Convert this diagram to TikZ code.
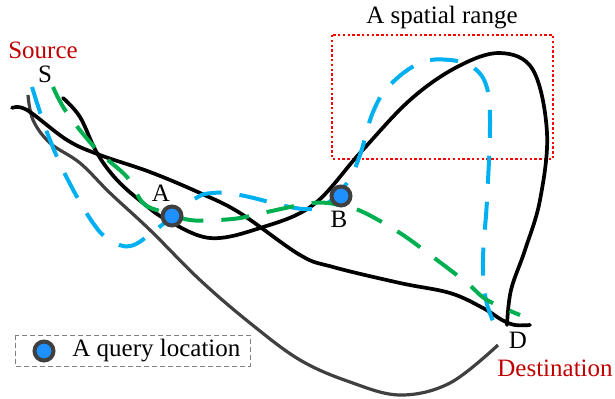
\documentclass[tikz,border=0pt]{standalone}
\usepackage{fontspec}
\setmainfont{Liberation Serif}
\usetikzlibrary{positioning}
\definecolor{route-blue}{RGB}{0,176,240}
\definecolor{route-green}{RGB}{0,176,80}
\definecolor{route-gray}{RGB}{64,64,64}
\definecolor{label-red}{RGB}{192,0,0}
\definecolor{query-blue}{RGB}{30,144,255}

\begin{document}
\begin{tikzpicture}[x=0.5pt,y=-0.5pt,
  txt/.style={font=\fontsize{12.5}{14}\selectfont, inner sep=0pt},
  qpoint/.style={circle, draw=route-gray, fill=query-blue, line width=2pt, minimum size=9.5pt, inner sep=0pt},
  blackroute/.style={line width=1.85pt, line cap=round},
  blueroute/.style={route-blue, line width=2pt, dash pattern=on 14pt off 9pt},
  greenroute/.style={route-green, line width=2pt, dash pattern=on 14pt off 9pt}]
  \useasboundingbox (0,0) rectangle (615,398);

  % Spatial range
  \draw[red, line width=0.8pt, dash pattern=on 1.2pt off 1.2pt] (332,35) rectangle (553,159);
  \node[txt] (range) at (442,18) {A spatial range};

  % Routes
  \draw[route-gray, line width=1.6pt] plot[smooth, tension=0.6] coordinates {(28,95) (33,120) (50,143) (80,163) (110,193) (150,230) (200,280) (250,323) (300,360) (350,382) (400,395) (450,383) (498,345)};
  \draw[blackroute] plot[smooth, tension=0.6] coordinates {(12,108) (27,110) (67,140) (100,155) (150,172) (200,193) (240,213) (300,255) (333,267) (400,283) (450,293) (483,308) (502,320) (515,325) (530,325)};
  \draw[blackroute] plot[smooth, tension=0.6] coordinates {(63,98) (80,117) (97,153) (117,180) (143,203) (167,220) (210,238) (260,228) (313,205) (360,153) (410,100) (457,67) (500,53) (533,70) (547,133) (540,200) (525,250) (511,290) (507,325)};
  \draw[blueroute] plot[smooth, tension=0.65] coordinates {(32,87) (48,135) (68,180) (93,223) (110,240) (130,246) (153,232) (193,200) (213,193) (240,195) (290,207) (310,209) (323,207) (347,183) (360,155) (373,112) (390,85) (420,63) (450,60) (474,68) (487,88) (490,125) (487,200) (483,260) (486,300) (497,330)};
  \draw[greenroute] plot[smooth, tension=0.6] coordinates {(53,87) (67,113) (97,150) (127,177) (143,203) (163,212) (190,220) (217,220) (240,218) (267,212) (313,203) (340,205) (363,212) (400,233) (433,257) (467,283) (487,300) (520,315)};

  % Query locations
  \node[qpoint] (A) at (172,216) {};
  \node[qpoint] (B) at (341,196) {};
  \node[txt] (labA) at (161,193) {A};
  \node[txt] (labB) at (339,219) {B};

  % Source and destination
  \node[txt] (S) at (45,74) {S};
  \node[txt, text=label-red] (source) at (43,50) {Source};
  \node[txt] (D) at (518,340) {D};
  \node[txt, text=label-red] (dest) at (555,368) {Destination};

  % Legend
  \draw[gray, line width=0.5pt, dash pattern=on 2.5pt off 1.5pt] (15,335) rectangle (250,366);
  \node[qpoint] (legdot) at (44,351) {};
  \node[txt, anchor=west] (legtxt) at (72,351) {A query location};
\end{tikzpicture}
\end{document}
